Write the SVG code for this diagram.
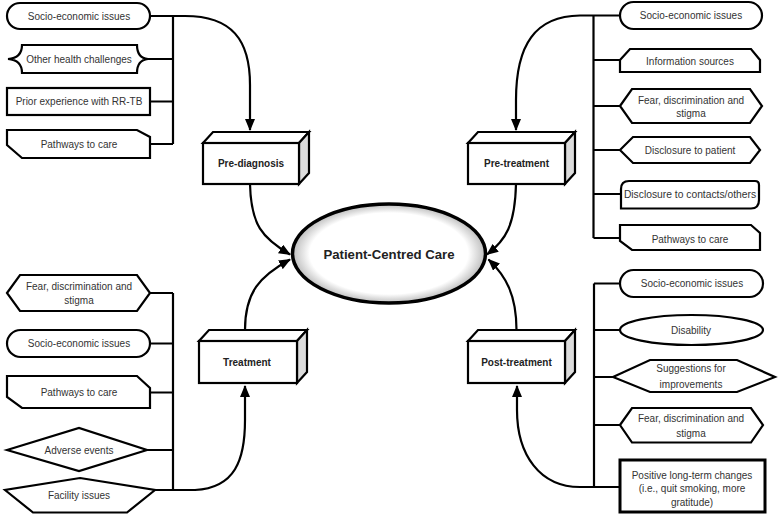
<svg xmlns="http://www.w3.org/2000/svg" width="778" height="517" viewBox="0 0 778 517">
<defs>
<marker id="ah" viewBox="0 0 12 10" refX="11" refY="5" markerWidth="12" markerHeight="10" markerUnits="userSpaceOnUse" orient="auto">
<path d="M0,0 L12,5 L0,10 Z" fill="#000"/>
</marker>
<radialGradient id="eg" cx="50%" cy="50%" r="50%">
<stop offset="0%" stop-color="#fff"/>
<stop offset="82%" stop-color="#fff"/>
<stop offset="100%" stop-color="#bdbdbd"/>
</radialGradient>
</defs>
<style>
.s{fill:#fff;stroke:#000;stroke-width:2.2;stroke-linejoin:miter}
.t{font-family:"Liberation Sans",Arial,sans-serif;font-size:10px;fill:#333;text-anchor:middle}
.b{font-family:"Liberation Sans",Arial,sans-serif;font-size:10px;font-weight:bold;fill:#222;text-anchor:middle}
.c{fill:none;stroke:#000;stroke-width:2.2}
.side{fill:#dcdcdc;stroke:#000;stroke-width:2.2;stroke-linejoin:miter}
</style>
<rect width="778" height="517" fill="#fff"/>

<g id="connectors">
<!-- top-left bus -->
<path class="c" d="M173,16 L173,144 M148,59 L173,59 M150,101.5 L173,101.5 M150,144 L173,144"/>
<path class="c" d="M150,16 L185,16 C232,16 250,40 250,85 L250,130" marker-end="url(#ah)"/>
<!-- top-right bus -->
<path class="c" d="M593.5,15.5 L593.5,238 M593.5,60 L620,60 M593.5,106 L620,106 M593.5,150 L620,150 M593.5,194 L621,194 M593.5,238 L620,238"/>
<path class="c" d="M620,15.5 L580,15.5 C535,16 516,45 516,100 L516,130" marker-end="url(#ah)"/>
<!-- bottom-left bus -->
<path class="c" d="M173,293 L173,490 M150,293 L173,293 M150,343.5 L173,343.5 M150,392.5 L173,392.5 M147,450 L173,450"/>
<path class="c" d="M155,490 L195,490 C235,488 245,460 245,420 L245,386" marker-end="url(#ah)"/>
<!-- bottom-right bus -->
<path class="c" d="M594,283.5 L594,487 M594,283.5 L620,283.5 M594,330 L620,330 M594,377 L613,377 M594,425 L620,425"/>
<path class="c" d="M620,487 L580,487 C540,487 517,455 517,410 L517,386" marker-end="url(#ah)"/>
<!-- into centre -->
<path class="c" d="M250,184 C251,225 262,238 290,254.5" marker-end="url(#ah)"/>
<path class="c" d="M516,184 C515,225 506,240 487,254.5" marker-end="url(#ah)"/>
<path class="c" d="M245,330 C245,292 260,276 290,259.5" marker-end="url(#ah)"/>
<path class="c" d="M516.5,330 C516.5,295 506,276 488.5,259.5" marker-end="url(#ah)"/>
</g>

<g id="centre">
<ellipse cx="389" cy="253.5" rx="96.5" ry="49.5" fill="url(#eg)" stroke="#000" stroke-width="3.5"/>
<text class="b" x="389" y="258.5" style="font-size:13.2px">Patient-Centred Care</text>
</g>

<g id="pre-diagnosis">
<polygon class="s" points="203,143 213,132 309,132 299,143"/>
<polygon class="side" points="299,143 309,132 309,173 299,184"/>
<rect class="s" x="203" y="143" width="96" height="41"/>
<text class="b" x="251" y="166.5">Pre-diagnosis</text>
</g>

<g id="pre-treatment">
<polygon class="s" points="468,143 478,132 575,132 565,143"/>
<polygon class="side" points="565,143 575,132 575,173 565,184"/>
<rect class="s" x="468" y="143" width="97" height="41"/>
<text class="b" x="516.5" y="166.5">Pre-treatment</text>
</g>

<g id="treatment">
<polygon class="s" points="199,341 209,330 307,330 297,341"/>
<polygon class="side" points="297,341 307,330 307,372 297,383"/>
<rect class="s" x="199" y="341" width="98" height="42"/>
<text class="b" x="247" y="365.5">Treatment</text>
</g>

<g id="post-treatment">
<polygon class="s" points="468,341 478,330 575,330 565,341"/>
<polygon class="side" points="565,341 575,330 575,372 565,383"/>
<rect class="s" x="468" y="341" width="97" height="42"/>
<text class="b" x="516.5" y="365.5">Post-treatment</text>
</g>

<!-- top-left -->
<g id="tl-socio">
<rect class="s" x="7" y="3" width="143" height="26" rx="13"/>
<text class="t" x="79" y="19.5">Socio-economic issues</text>
</g>
<g id="tl-other">
<path class="s" d="M22,45 L137,45 Q137,58 148,59 Q137,60 137,73 L22,73 Q22,60 8,59 Q22,58 22,45 Z"/>
<text class="t" x="79" y="62.5">Other health challenges</text>
</g>
<g id="tl-prior">
<rect class="s" x="7" y="88" width="143" height="27"/>
<text class="t" x="79" y="105">Prior experience with RR-TB</text>
</g>
<g id="tl-pathways">
<path class="s" d="M7,130 L137,130 L150,137 L150,158 L22,158 L7,145 Z"/>
<text class="t" x="79" y="148">Pathways to care</text>
</g>

<!-- top-right -->
<g id="tr-socio">
<rect class="s" x="620" y="2" width="142" height="27" rx="13.5"/>
<text class="t" x="691" y="19">Socio-economic issues</text>
</g>
<g id="tr-info">
<path class="s" d="M620,60 L630,49 L751,49 L760,60 L760,72 L620,72 Z"/>
<text class="t" x="690" y="64.5">Information sources</text>
</g>
<g id="tr-fear">
<path class="s" d="M620,106 L632,89 L750,89 L762,106 L750,123 L632,123 Z"/>
<text class="t" x="691" y="103.5">Fear, discrimination and</text>
<text class="t" x="691" y="117">stigma</text>
</g>
<g id="tr-discl-patient">
<path class="s" d="M620,150 L633,137 L750,137 L760,150 L750,163 L633,163 Z"/>
<text class="t" x="690" y="153.5">Disclosure to patient</text>
</g>
<g id="tr-discl-contacts">
<path class="s" d="M621,189 Q621,181 629,181 L755,181 Q759,181 759,185 L759,200 Q759,208.5 751,208.5 L621,208.5 Z"/>
<text class="t" x="690" y="198" style="font-size:10.3px">Disclosure to contacts/others</text>
</g>
<g id="tr-pathways">
<path class="s" d="M620,225 L751,225 L760,233 L760,250 L632,250 L620,241 Z"/>
<text class="t" x="690" y="242.5">Pathways to care</text>
</g>

<!-- bottom-left -->
<g id="bl-fear">
<path class="s" d="M7,293 L20,275 L137,275 L150,293 L137,311 L20,311 Z"/>
<text class="t" x="79" y="290">Fear, discrimination and</text>
<text class="t" x="79" y="304">stigma</text>
</g>
<g id="bl-socio">
<rect class="s" x="7" y="330" width="143" height="27" rx="13.5"/>
<text class="t" x="79" y="347">Socio-economic issues</text>
</g>
<g id="bl-pathways">
<path class="s" d="M7,376 L137,376 L150,388 L150,408 L22,408 L7,397 Z"/>
<text class="t" x="79" y="396">Pathways to care</text>
</g>
<g id="bl-adverse">
<polygon class="s" points="7,450 79,428 147,450 79,471"/>
<text class="t" x="79" y="453.5">Adverse events</text>
</g>
<g id="bl-facility">
<polygon class="s" points="80,478 155,490 127,512.5 33,512.5 5,490"/>
<text class="t" x="79" y="498.5">Facility issues</text>
</g>

<!-- bottom-right -->
<g id="br-socio">
<rect class="s" x="620" y="270" width="143" height="27" rx="13.5"/>
<text class="t" x="692" y="287">Socio-economic issues</text>
</g>
<g id="br-disability">
<ellipse class="s" cx="691.5" cy="330" rx="71.5" ry="15"/>
<text class="t" x="691" y="333.5">Disability</text>
</g>
<g id="br-suggestions">
<polygon class="s" points="613,377 650,360 737,360 775,377 737,392 650,392"/>
<text class="t" x="691" y="372">Suggestions for</text>
<text class="t" x="691" y="387.5">improvements</text>
</g>
<g id="br-fear">
<path class="s" d="M620,425 L632,408 L751,408 L763,425 L751,442.5 L632,442.5 Z"/>
<text class="t" x="691" y="422">Fear, discrimination and</text>
<text class="t" x="691" y="436.5">stigma</text>
</g>
<g id="br-positive">
<rect class="s" x="620" y="460" width="145" height="52" style="stroke-width:3"/>
<text class="t" x="692" y="478.5">Positive long-term changes</text>
<text class="t" x="692" y="492">(i.e., quit smoking, more</text>
<text class="t" x="692" y="505.5">gratitude)</text>
</g>
</svg>
